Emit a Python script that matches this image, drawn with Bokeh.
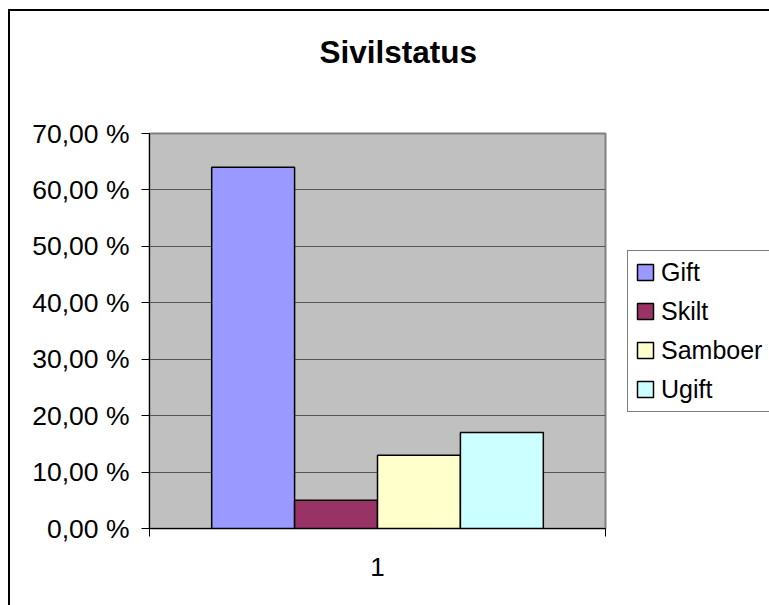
from bokeh.plotting import figure
from bokeh.models import Range1d, FixedTicker, Title, ColumnDataSource
from bokeh.embed import file_html
from bokeh.resources import INLINE

# ---- data ----
title_text = "Sivilstatus"
group_label = "1"
categories = ["Gift", "Skilt", "Samboer", "Ugift"]
values = [64, 5, 13, 17]
colors = ["#9999FF", "#993366", "#FFFFCC", "#CCFFFF"]
yticks = [0, 10, 20, 30, 40, 50, 60, 70]
ytick_labels = ["0,00 %", "10,00 %", "20,00 %", "30,00 %", "40,00 %", "50,00 %", "60,00 %", "70,00 %"]

FONT = "Liberation Sans"

# Excel-like clustered column layout: gap width 150 %
n = len(categories)
bar_w = 1.0 / (n + 1.5)
xs = [0.5 + (i - (n - 1) / 2) * bar_w for i in range(n)]

src = ColumnDataSource(dict(x=xs, top=values, color=colors, cat=categories))

p = figure(frame_width=456, frame_height=395, x_range=Range1d(0, 1), y_range=Range1d(0, 70),
           output_backend="svg", toolbar_location=None,
           min_border_left=139, min_border_right=164, min_border_top=122, min_border_bottom=77)
p.styles = {"margin-left": "8px", "margin-top": "9px",
            "border-left": "2px solid black", "border-top": "2px solid black"}

p.background_fill_color = "#C0C0C0"
p.border_fill_color = "white"
p.outline_line_color = "#808080"
p.outline_line_width = 2

r = p.vbar(x="x", top="top", width=bar_w, bottom=0, source=src, fill_color="color",
           line_color="black", line_width=1.5, legend_field="cat")

p.xgrid.visible = False
p.ygrid.ticker = FixedTicker(ticks=yticks)
p.ygrid.grid_line_color = "#555555"
p.ygrid.grid_line_width = 1

ax = p.yaxis[0]
ax.ticker = FixedTicker(ticks=yticks)
ax.major_label_overrides = {t: lab for t, lab in zip(yticks, ytick_labels)}
ax.major_tick_out = 8
ax.major_tick_in = 0
ax.minor_tick_line_color = None
ax.axis_line_color = "black"
ax.major_tick_line_color = "black"
ax.major_label_text_font = FONT
ax.major_label_text_font_size = "26.5px"
ax.major_label_text_color = "black"
ax.major_label_standoff = 12

bx = p.xaxis[0]
bx.ticker = FixedTicker(ticks=[0.5], minor_ticks=[0, 1])
bx.major_label_overrides = {0.5: group_label}
bx.major_tick_line_color = None
bx.minor_tick_out = 8
bx.minor_tick_in = 0
bx.minor_tick_line_color = "black"
bx.axis_line_color = "black"
bx.major_label_text_font = FONT
bx.major_label_text_font_size = "26px"
bx.major_label_text_color = "black"
bx.major_label_standoff = 21

# title: spacer (inner) + real title (outer) in the "above" panel
spacer = Title(text=" ", text_font_size="1px", standoff=60)
ttl = Title(text=title_text, align="left", offset=170, vertical_align="middle", standoff=0,
            text_font=FONT, text_font_size="31.5px", text_font_style="bold", text_color="black")
p.add_layout(spacer, "above")
p.add_layout(ttl, "above")

# legend in the right panel
lg = p.legend[0]
p.center.remove(lg)
p.add_layout(lg, "right")
lg.location = (22, 116.5)
lg.border_line_color = "black"
lg.border_line_width = 1
lg.background_fill_color = "white"
lg.background_fill_alpha = 1
lg.label_text_font = FONT
lg.label_text_font_size = "25px"
lg.label_text_color = "black"
lg.glyph_width = 20
lg.glyph_height = 20
lg.label_standoff = 6
lg.padding = 7
lg.spacing = 10
lg.margin = 0

open("out.html", "w").write(file_html(p, INLINE))
